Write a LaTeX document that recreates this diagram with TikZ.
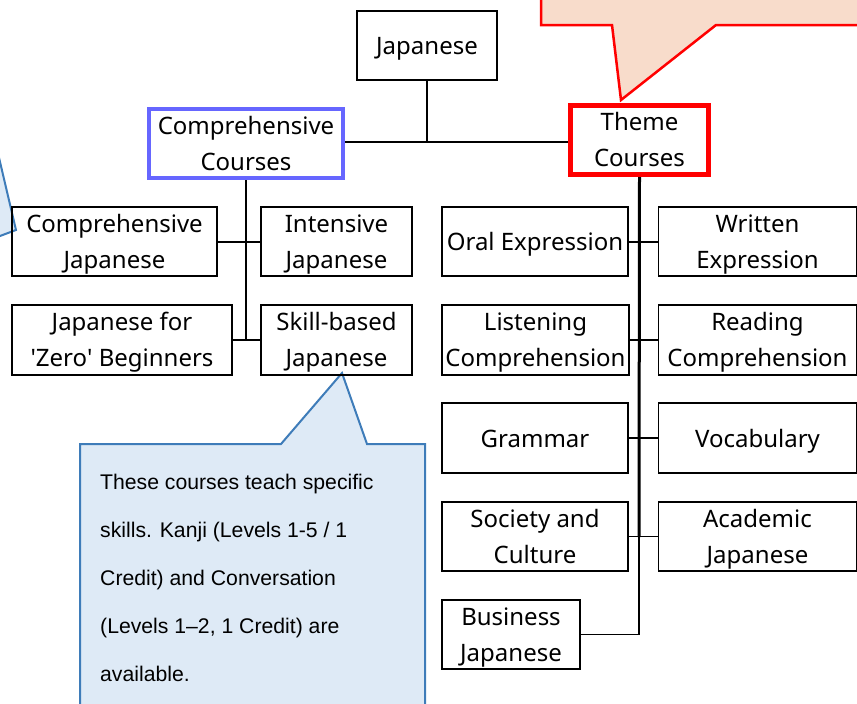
\documentclass[tikz,border=0pt]{standalone}
\usepackage{fontspec}
\setmainfont{Noto Sans}
\newfontfamily\callfont{Liberation Sans}
\definecolor{callblue}{RGB}{222,234,246}
\definecolor{callbluedraw}{RGB}{62,124,185}
\definecolor{callpeach}{RGB}{248,220,203}
\definecolor{compblue}{RGB}{102,102,255}
\newcommand\boxtwo[2]{\raisebox{0pt}[59.6pt][6pt]{\begin{tabular}[b]{@{}c@{}}#1\\#2\end{tabular}}}
\newcommand\boxone[1]{\raisebox{0pt}[24.6pt][6pt]{#1}}
\begin{document}
\begin{tikzpicture}[x=1pt,y=-1pt,
  box/.style={draw=black, line width=1.5pt, inner sep=0pt,
    font=\fontsize{24}{36}\selectfont, minimum height=69pt},
  conn/.style={draw=black, line width=2pt},
  calltext/.style={anchor=base west, inner sep=0pt, font=\callfont\fontsize{21.2}{24}\selectfont}]
\useasboundingbox (0,0) rectangle (857,704);
\clip (0,0) rectangle (857,704);

% callouts
\path[fill=callpeach, draw=red, line width=2.5pt]
  (541,-20) -- (541,25) -- (612,25) -- (621,100) -- (716,25) -- (880,25) -- (880,-20) -- cycle;
\path[fill=callblue, draw=callbluedraw, line width=2pt]
  (-7.5,130) -- (16,230) -- (-20,243.5) -- (-20,130) -- cycle;
\path[fill=callblue, draw=callbluedraw, line width=2pt]
  (80,444) -- (281,444) -- (342,373) -- (367,444) -- (425,444) -- (425,730) -- (80,730) -- cycle;

\node[calltext] (t1) at (100,489) {These courses teach specific};
\node[calltext] (t2) at (100,537) {skills. Kanji (Levels 1-5 / 1};
\node[calltext] (t3) at (100,585) {Credit) and Conversation};
\node[calltext] (t4) at (100,633) {(Levels 1–2, 1 Credit) are};
\node[calltext] (t5) at (100,681) {available.};

% boxes
\node[box, minimum width=140pt] (jap) at (427,45.5) {\boxone{Japanese}};
\node[box, draw=compblue, line width=4pt, minimum width=194pt] (comp) at (246,143.5) {\boxtwo{Comprehensive}{Courses}};
\node[box, draw=red, line width=5pt, minimum width=138pt] (theme) at (639.5,140) {\boxtwo{Theme}{Courses}};

\node[box, minimum width=205pt] (cj) at (114.5,241.5) {\boxtwo{Comprehensive}{Japanese}};
\node[box, minimum width=151pt] (ij) at (336.5,241.5) {\boxtwo{Intensive}{Japanese}};
\node[box, minimum width=220pt, minimum height=70pt] (zb) at (122,340) {\boxtwo{Japanese for}{\textquotesingle Zero\textquotesingle\ Beginners}};
\node[box, minimum width=151pt, minimum height=70pt] (sb) at (336.5,340) {\boxtwo{Skill-based}{Japanese}};

\node[box, minimum width=186pt] (oe) at (535,241.5) {\boxone{Oral Expression}};
\node[box, minimum width=198pt] (we) at (757.5,241.5) {\boxtwo{Written}{Expression}};
\node[box, minimum width=187pt, minimum height=70pt] (lc) at (535.5,340) {\boxtwo{Listening}{Comprehension}};
\node[box, minimum width=198pt, minimum height=70pt] (rc) at (757.5,340) {\boxtwo{Reading}{Comprehension}};
\node[box, minimum width=186pt, minimum height=70pt] (gr) at (535,438) {\boxone{Grammar}};
\node[box, minimum width=198pt, minimum height=70pt] (vo) at (757.5,438) {\boxone{Vocabulary}};
\node[box, minimum width=186pt] (sc) at (535,536.5) {\boxtwo{Society and}{Culture}};
\node[box, minimum width=198pt] (aj) at (757.5,536.5) {\boxtwo{Academic}{Japanese}};
\node[box, minimum width=138pt] (bj) at (511,634.5) {\boxtwo{Business}{Japanese}};

% connectors
\coordinate (hub) at (427,142);
\coordinate (compend) at (246,340);
\coordinate (thememid) at (639,537);
\coordinate (themeend) at (639,634.5);

\draw[conn] (jap.south) -- (hub);
\draw[conn] (comp.east |- hub) -- (theme.west |- hub);
\draw[conn, line width=2.3pt] (comp.south) -- (compend);
\draw[conn] (cj.east) -- (ij.west);
\draw[conn] (zb.east) -- (sb.west);
\draw[conn, line width=3pt] (theme.south) -- (thememid);
\draw[conn, line width=1.7pt] (thememid) -- (themeend) -- (bj.east);
\draw[conn] (oe.east) -- (we.west);
\draw[conn] (lc.east) -- (rc.west);
\draw[conn] (gr.east) -- (vo.west);
\draw[conn, line width=1.7pt] (sc.east) -- (aj.west);
\end{tikzpicture}
\end{document}
